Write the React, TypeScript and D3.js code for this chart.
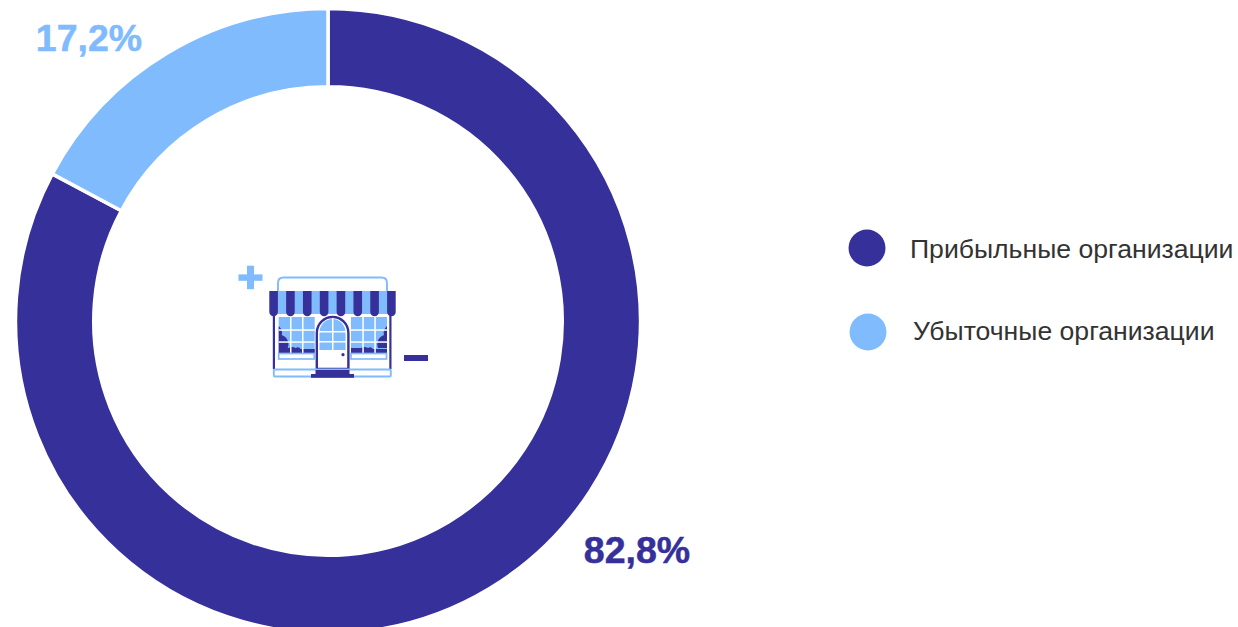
import * as d3 from "d3";

const categories = ["Прибыльные организации", "Убыточные организации"];
const shares = [82.8, 17.2];
const shareLabels = ["82,8%", "17,2%"];

const dark = "#36309a";
const light = "#7fbbfd";
const colors = [dark, light];

const width = 1238;
const height = 627;
const cx = 328;
const cy = 321;
const font = "'Liberation Sans', Arial, sans-serif";

// where the labels and legend rows sit
const labelPos = [
    { x: 637, y: 562.5 },
    { x: 89, y: 51 },
];
const legendPos = [
    { cx: 867, cy: 248, tx: 910, ty: 258 },
    { cx: 868, cy: 332, tx: 913, ty: 340 },
];

function StoreWindow({ x }: { x: number }) {
    const mirror = x > 330;
    const side = mirror ? x + 36 : x;
    const dir = mirror ? -1 : 1;
    return (
        <g>
            <rect x={x} y={317} width={36} height={36} fill={light} />
            {/* curtain */}
            <path
                d={`M${side},326 c${dir * 3},3 ${dir * 4},6 ${dir * 3},9 c${dir * 6},2 ${dir * 8},8 ${dir * 6},13 h${-dir * 9} z`}
                fill={dark}
            />
            <path
                d={`M${x},353 v-5 h10 q3,-2 7,0 q3,-2 5,1 h14 v4 z`}
                fill={dark}
            />
            {[12, 24].map((d) => (
                <rect key={d} x={x + d - 0.7} y={317} width={1.5} height={36} fill="#fff" />
            ))}
            {[13, 25].map((d) => (
                <rect key={d} x={x} y={317 + d - 0.7} width={36} height={1.5} fill="#fff" />
            ))}
            <rect x={x} y={353.5} width={35.5} height={5.5} fill="#fff" stroke={light} strokeWidth={1.7} />
        </g>
    );
}

function StoreIcon() {
    const stripes = d3.range(8).map((i) => 269.3 + i * 16.83);
    return (
        <g>
            {/* plus and minus */}
            <rect x={238.5} y={274.4} width={24} height={6.4} fill={light} />
            <rect x={247} y={265.7} width={7} height={23.5} fill={light} />
            <rect x={404} y={355} width={24} height={6} fill={dark} />

            {/* roof frame */}
            <path d="M278,291 v-8 q0,-5.5 5.5,-5.5 h98 q5.5,0 5.5,5.5 v8" fill="none" stroke={light} strokeWidth={1.9} />

            {/* walls */}
            <rect x={272.8} y={314} width={2.2} height={55} fill={dark} />
            <rect x={389.3} y={314} width={2.2} height={55} fill={dark} />

            <StoreWindow x={278.7} />
            <StoreWindow x={351} />

            {/* door */}
            <path d="M316.8,369 V333 a15.8,16 0 0 1 31.6,0 V369 z" fill="#fff" stroke={dark} strokeWidth={2.4} />
            <path d="M319.5,350 V333 a13,14 0 0 1 26,0 V350 z" fill={light} />
            <rect x={332} y={318} width={1.5} height={32} fill="#fff" />
            <rect x={319} y={331} width={27} height={1.5} fill="#fff" />
            <rect x={319} y={341} width={27} height={1.5} fill="#fff" />
            <circle cx={343} cy={354.7} r={1.6} fill={dark} />

            {/* awning */}
            <rect x={274} y={291} width={118} height={23} fill={light} />
            {stripes.map((x) => (
                <path
                    key={x}
                    d={`M${x},291 h8.6 v21 a4.3,4.3 0 0 1 -8.6,0 z`}
                    fill={dark}
                />
            ))}

            {/* ground and steps */}
            <rect x={273.8} y={369.5} width={117} height={7} rx={1} fill="#fff" stroke={light} strokeWidth={1.9} />
            <rect x={315.5} y={370} width={34} height={4} fill={dark} />
            <rect x={311} y={374} width={43} height={3.8} fill={dark} />
        </g>
    );
}

export default function App() {
    const pie = d3.pie<number>().sort(null).value((d) => d);
    const arc = d3.arc<d3.PieArcDatum<number>>().innerRadius(234.25).outerRadius(312.5);
    const slices = pie(shares);

    return (
        <svg
            width={width}
            height={height}
            viewBox={`0 0 ${width} ${height}`}
            style={{ position: "absolute", left: 0, top: 0, display: "block", background: "#fff" }}
        >
            <g transform={`translate(${cx},${cy})`}>
                {slices.map((s, i) => (
                    <path key={i} d={arc(s) as string} fill={colors[i]} stroke="#fff" strokeWidth={3.5} />
                ))}
            </g>

            {shareLabels.map((t, i) => (
                <text
                    key={t}
                    x={labelPos[i].x}
                    y={labelPos[i].y}
                    textAnchor="middle"
                    fontFamily={font}
                    fontWeight="bold"
                    fontSize={37.5}
                    fill={colors[i]}
                    stroke={colors[i]}
                    strokeWidth={0.5}
                >
                    {t}
                </text>
            ))}

            <StoreIcon />

            {categories.map((c, i) => (
                <g key={c}>
                    <circle cx={legendPos[i].cx} cy={legendPos[i].cy} r={18.5} fill={colors[i]} />
                    <text x={legendPos[i].tx} y={legendPos[i].ty} fontFamily={font} fontSize={26.6} fill="#333">
                        {c}
                    </text>
                </g>
            ))}
        </svg>
    );
}
